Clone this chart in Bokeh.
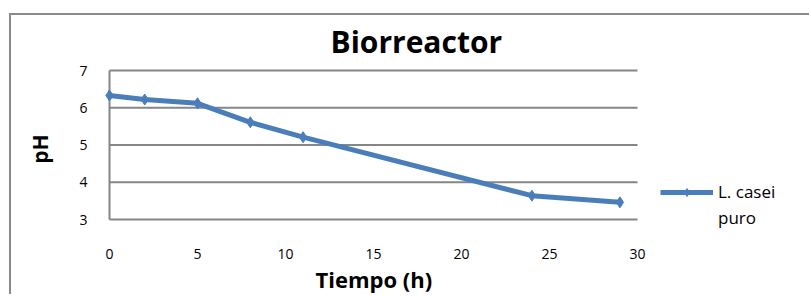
from bokeh.plotting import figure
from bokeh.models import Range1d, Legend, LegendItem, FixedTicker, Title
from bokeh.embed import file_html
from bokeh.resources import INLINE

# Data
tiempo_h = [0, 2, 5, 8, 11, 24, 29]
ph_values = [6.33, 6.22, 6.12, 5.61, 5.21, 3.64, 3.46]
x_ticks = [0, 5, 10, 15, 20, 25, 30]
y_ticks = [3, 4, 5, 6, 7]
series_lines = ["L. casei", "puro"]
chart_title = "Biorreactor"
x_label = "Tiempo (h)"
y_label = "pH"

FONT = "Open Sans"
BLUE = "#4a7ebb"
GRID = "#868686"

# layout (pixels)
CANVAS_W, CANVAS_H = 800, 281
AXIS_X, TOP, BOTTOM = 98, 50, 64   # y axis position inside the canvas
LEFT_PAD = 9                        # room so the first marker is not cut
LEFT = AXIS_X - LEFT_PAD
PLOT_W = 528           # width used by x = 0..30
PLOT_H = 149           # height used by pH = 3..7
x_min, x_max = x_ticks[0], x_ticks[-1]
y_min, y_max = y_ticks[0], y_ticks[-1]
xs = PLOT_W / (x_max - x_min)
ys = PLOT_H / (y_max - y_min)
frame_w = CANVAS_W - LEFT
frame_h = CANVAS_H - TOP - BOTTOM
x_start = x_min - LEFT_PAD / xs
x_end = x_start + frame_w / xs
top_pad = 5
y_end = y_max + top_pad / ys
y_start = y_end - frame_h / ys

p = figure(width=CANVAS_W, height=CANVAS_H, output_backend="svg", toolbar_location=None,
           x_range=Range1d(x_start, x_end), y_range=Range1d(y_start, y_end),
           min_border_left=LEFT, min_border_right=0,
           min_border_top=TOP, min_border_bottom=BOTTOM)

p.styles = {"border-top": "2px solid #8a8a8a", "border-left": "2px solid #8a8a8a",
            "margin-top": "13px", "margin-left": "9px"}

p.title = Title(text=chart_title, align="left", offset=221 + LEFT_PAD,
                text_font=FONT, text_font_size="30px", text_font_style="bold",
                text_color="black", standoff=7)

p.outline_line_color = None
p.background_fill_color = "white"
p.border_fill_color = "white"

# axes
p.xaxis.ticker = FixedTicker(ticks=x_ticks)
p.yaxis.ticker = FixedTicker(ticks=y_ticks)
for ax in (p.xaxis[0], p.yaxis[0]):
    ax.major_tick_line_color = None
    ax.minor_tick_line_color = None
    ax.major_tick_out = 0
    ax.major_tick_in = 0
    ax.minor_tick_out = 0
    ax.minor_tick_in = 0
    ax.major_label_text_font = FONT
    ax.major_label_text_font_size = "14px"
    ax.major_label_text_color = "black"
    ax.axis_label_text_font = FONT
    ax.axis_label_text_font_size = "21px"
    ax.axis_label_text_font_style = "bold"
    ax.axis_label_text_color = "black"

p.yaxis.axis_label = y_label
p.xaxis.axis_line_color = None
p.yaxis.axis_line_color = None
p.xaxis.major_label_standoff = 16
p.yaxis.major_label_standoff = 22 - LEFT_PAD
p.yaxis.axis_label_standoff = 22

# x axis title, centred under the data width (not the whole frame)
p.add_layout(Title(text=x_label, align="left", offset=206 + LEFT_PAD,
                   text_font=FONT, text_font_size="22px", text_font_style="bold",
                   text_color="black", standoff=0), "below")

p.xgrid.grid_line_color = None
p.ygrid.grid_line_color = None

# horizontal gridlines spanning only the data width
p.segment(x0=[x_min] * len(y_ticks), x1=[x_max] * len(y_ticks),
          y0=y_ticks, y1=y_ticks, line_color=GRID, line_width=2)
# vertical axis line at x = 0
p.segment(x0=[x_min], x1=[x_min], y0=[y_min], y1=[y_max],
          line_color=GRID, line_width=2)

r_line = p.line(tiempo_h, ph_values, line_color=BLUE, line_width=5)
r_pts = p.scatter(tiempo_h, ph_values, marker="diamond", size=11,
                  fill_color=BLUE, line_color=BLUE)

legend = Legend(items=[LegendItem(label=series_lines[0], renderers=[r_line, r_pts]),
                       LegendItem(label=series_lines[1], renderers=[])],
                location=(551 + LEFT_PAD, 3), border_line_color=None,
                background_fill_alpha=0,
                label_text_font=FONT, label_text_font_size="17px",
                label_text_color="black",
                glyph_width=53, glyph_height=20, label_standoff=5,
                spacing=3, padding=0, margin=0)
p.add_layout(legend, "center")

open("out.html", "w").write(file_html(p, INLINE))
